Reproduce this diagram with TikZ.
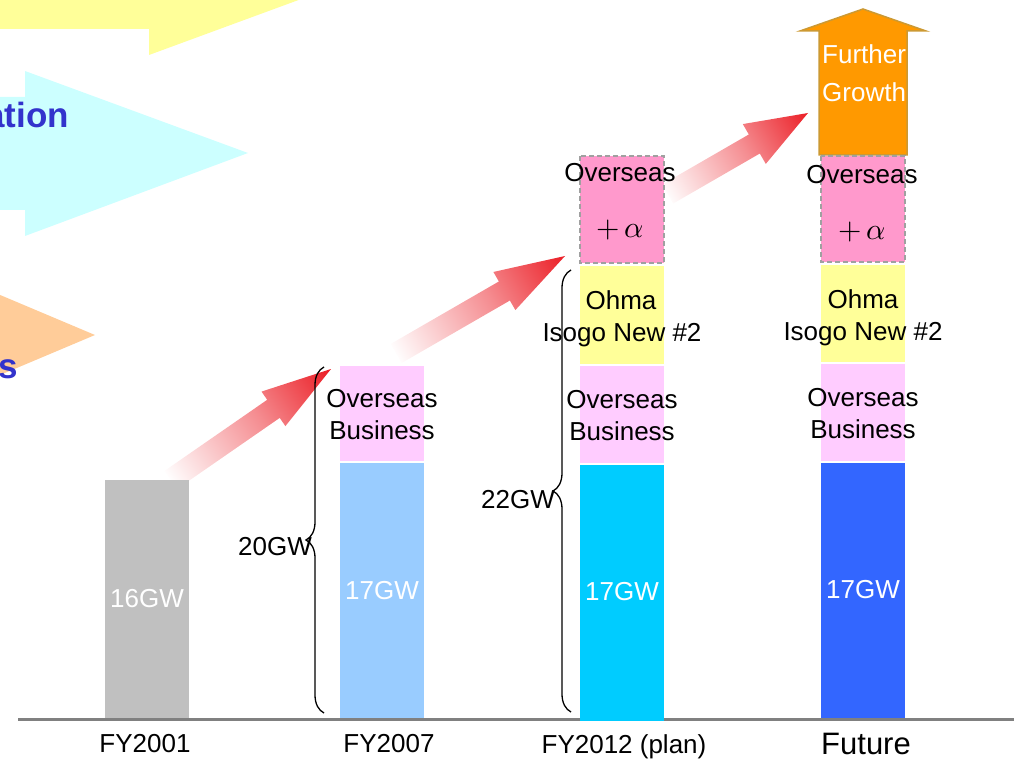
\documentclass[tikz,border=0pt]{standalone}
\usepackage{fontspec}
\setmainfont{Liberation Sans}
\newfontfamily\lmmath{latinmodern-math.otf}
\usetikzlibrary{calc,decorations.pathreplacing}
\definecolor{cGray}{HTML}{C0C0C0}
\definecolor{cLBlue}{HTML}{99CCFF}
\definecolor{cLPink}{HTML}{FFCCFF}
\definecolor{cCyan}{HTML}{00CCFF}
\definecolor{cYellow}{HTML}{FFFF99}
\definecolor{cPink}{HTML}{FF99CC}
\definecolor{cBlue}{HTML}{3366FF}
\definecolor{cOrange}{HTML}{FF9900}
\definecolor{cOrangeEdge}{HTML}{CC9933}
\definecolor{cDash}{HTML}{A0A0A0}
\definecolor{cAxis}{HTML}{808080}
\definecolor{cArrYellow}{HTML}{FFFF99}
\definecolor{cArrCyan}{HTML}{CCFFFF}
\definecolor{cArrOrange}{HTML}{FFCC99}
\definecolor{cTxtBlue}{HTML}{3333CC}
\definecolor{cRed}{RGB}{235,28,36}
\pgfdeclarehorizontalshading{redfade}{100bp}{color(0bp)=(white); color(18bp)=(white); color(55bp)=(cRed!50!white); color(85bp)=(cRed); color(100bp)=(cRed)}
\newcommand{\fadearrow}[6]{%
  \shade[shading=redfade, shading angle=#2]
    (#1)
    -- ($(#1)+({-(#2)-180}:#4)+({-(#2)-90}:#5)$)
    -- ($(#1)+({-(#2)-180}:#4)+({-(#2)-90}:#6)$)
    -- ($(#1)+({-(#2)-180}:#3)+({-(#2)-90}:#6)$)
    -- ($(#1)+({-(#2)-180}:#3)+({90-(#2)}:#6)$)
    -- ($(#1)+({-(#2)-180}:#4)+({90-(#2)}:#6)$)
    -- ($(#1)+({-(#2)-180}:#4)+({90-(#2)}:#5)$)
    -- cycle;}
\tikzset{
  lbl/.style={inner sep=0pt, anchor=base, font=\fontsize{26}{30}\selectfont},
  wlbl/.style={lbl, text=white},
  gwbrace/.style={decorate, decoration={brace, amplitude=18pt, aspect=0.5}, line width=1.3pt},
  dashbox/.style={fill=cPink, draw=cDash, line width=1.8pt, dash pattern=on 5pt off 3pt},
  bigblue/.style={inner sep=0pt, anchor=base east, text=cTxtBlue, font=\bfseries\fontsize{35}{40}\selectfont},
  alphalbl/.style={inner sep=0pt, anchor=base, font=\lmmath\fontsize{30}{34}\selectfont}
}
\begin{document}
\begin{tikzpicture}[x=1pt,y=-1pt]
\useasboundingbox (0,0) rectangle (1014,759);
% background arrows on the left (partly cut)
\begin{scope}
\clip (0,0) rectangle (1014,759);
\fill[cArrYellow] (-10,-83) -- (149,-83) -- (149,-109) -- (372,-27) -- (149,55) -- (149,29) -- (-10,29) -- cycle;
\fill[cArrCyan] (-10,97) -- (25,97) -- (25,71) -- (248,153) -- (25,236) -- (25,210) -- (-10,210) -- cycle;
\fill[cArrOrange] (-20,286.5) -- (95,335) -- (-20,383.5) -- cycle;
\node[bigblue] (ation) at (69,128) {ation};
\node[bigblue] (sword) at (18,378) {s};
\end{scope}
% growth arrows
\coordinate (tip1) at (331,369);
\coordinate (tip2) at (565,256);
\coordinate (tip3) at (808,113);
\fadearrow{tip1}{34.7}{195}{70}{21}{11}
\fadearrow{tip2}{30}{195}{70}{22}{11}
\fadearrow{tip3}{30}{162}{62}{23}{11}
% FY2001
\fill[cGray] (105,480) rectangle (189,718);
% FY2007
\fill[cLPink] (340,366) rectangle (424,461);
\fill[cLBlue] (340,463) rectangle (424,718);
% FY2012
\fill[cYellow] (580,266) rectangle (664,364);
\fill[cLPink] (580,366) rectangle (664,463);
\path[dashbox] (580,156) rectangle (664,263);
% Future
\fill[cOrange, draw=cOrangeEdge, line width=1.5pt] (819,155) -- (819,31) -- (800,31) -- (863,9) -- (926,31) -- (907,31) -- (907,155) -- cycle;
\fill[cYellow] (821,265) rectangle (905,362);
\fill[cLPink] (821,364) rectangle (905,461);
\fill[cBlue] (821,463) rectangle (905,718);
\path[dashbox] (821,156) rectangle (905,262);
% axis
\coordinate (axL) at (18,719.5);
\coordinate (axR) at (1014,719.5);
\draw[cAxis, line width=2.5pt] (axL) -- (axR);
\fill[cCyan] (580,465) rectangle (664,721);
% texts in bars
\node[wlbl] (t16) at (147,607.5) {16GW};
\node[lbl] (o07) at (382,407.5) {Overseas};
\node[lbl] (bu07) at (382,439.5) {Business};
\node[wlbl] (g07) at (382,599.5) {17GW};
\node[lbl] (o12a) at (620,181.5) {Overseas};
\node[alphalbl] (pa12) at (620,238) {+\,𝛼};
\node[lbl] (oh12) at (621,309.5) {Ohma};
\node[lbl] (is12) at (622,341.5) {Isogo New \#2};
\node[lbl] (o12) at (622,408.5) {Overseas};
\node[lbl] (bu12) at (622,440.5) {Business};
\node[wlbl] (g12) at (622,600.5) {17GW};
\node[wlbl, anchor=base west] (fu) at (822,64) {Further};
\node[wlbl, anchor=base west] (gr) at (822,102) {Growth};
\node[lbl] (oF) at (862,183.5) {Overseas};
\node[alphalbl] (paF) at (862,240) {+\,𝛼};
\node[lbl] (ohF) at (863,308.5) {Ohma};
\node[lbl] (isF) at (863,340.5) {Isogo New \#2};
\node[lbl] (oFb) at (863,406.5) {Overseas};
\node[lbl] (buF) at (863,438.5) {Business};
\node[wlbl] (gF) at (863,598.5) {17GW};
% braces
\coordinate (br07b) at (324,713);
\coordinate (br07t) at (324,367);
\coordinate (br12b) at (571,712);
\coordinate (br12t) at (571,270);
\draw[gwbrace] (br07b) -- (br07t);
\draw[gwbrace] (br12b) -- (br12t);
\node[lbl, anchor=base east] (gw20) at (312,555) {20GW};
\node[lbl, anchor=base east] (gw22) at (555,508) {22GW};
% axis labels
\node[lbl] (x01) at (145,752) {FY2001};
\node[lbl] (x07) at (389,752) {FY2007};
\node[lbl] (x12) at (624,753) {FY2012 (plan)};
\node[lbl, font=\fontsize{31}{36}\selectfont] (xF) at (866,754) {Future};
\end{tikzpicture}
\end{document}
